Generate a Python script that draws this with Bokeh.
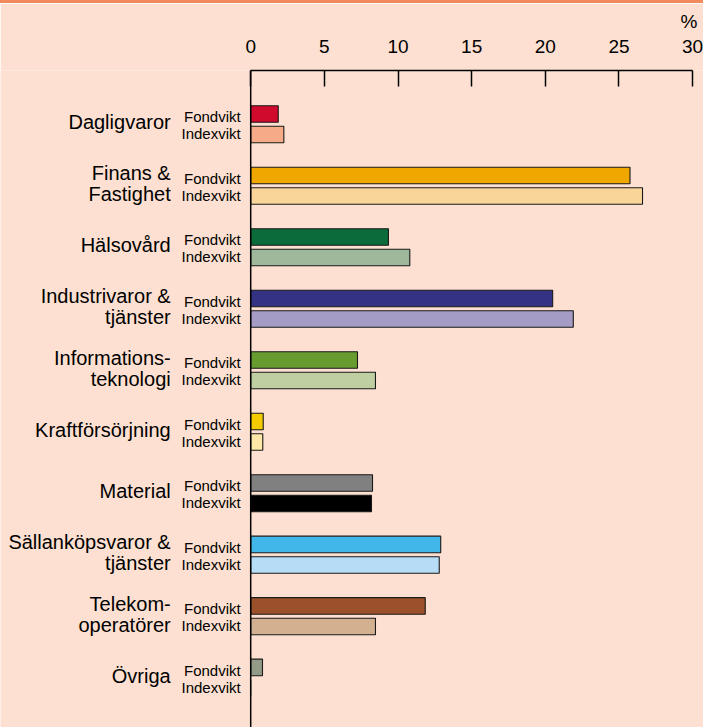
from bokeh.plotting import figure
from bokeh.models import Range1d, LinearAxis, FixedTicker, Span, Div
from bokeh.layouts import column
from bokeh.embed import file_html
from bokeh.resources import INLINE
from bokeh.core.properties import value

# ---- data ----
categories = ["Dagligvaror", "Finans &\nFastighet", "Hälsovård", "Industrivaror &\ntjänster",
              "Informations-\nteknologi", "Kraftförsörjning", "Material",
              "Sällanköpsvaror &\ntjänster", "Telekom-\noperatörer", "Övriga"]
fondvikt = [1.87, 25.75, 9.35, 20.5, 7.25, 0.85, 8.27, 12.9, 11.85, 0.8]
indexvikt = [2.25, 26.6, 10.8, 21.9, 8.47, 0.82, 8.2, 12.8, 8.47, 0.0]
fond_colors = ["#cf0a2c", "#f0a800", "#0b6b3a", "#343283", "#679b2f",
               "#f4cb00", "#808080", "#41b6e9", "#9b522b", "#939a88"]
index_colors = ["#f5ab87", "#f9d59a", "#9fb79a", "#a49cc4", "#bfcfa1",
                "#fde8a8", "#000000", "#b7dcf5", "#d2b090", "#939a88"]
series_labels = ["Fondvikt", "Indexvikt"]
ticks = [0, 5, 10, 15, 20, 25, 30]
unit_label = "%"

BG = "#fde0d1"
ORANGE = "#f08a5c"
FONT = "Liberation Sans"

# ---- layout constants ----
W = 703
BAND = 3
H = 727 - BAND
PX_PER_UNIT = 14.73
ZERO_PX = 250.2
OFF = 0.167
BAR_H = 0.27

p = figure(width=W, height=H, output_backend="svg", toolbar_location=None,
           x_range=Range1d(-ZERO_PX / PX_PER_UNIT, (W - ZERO_PX) / PX_PER_UNIT),
           y_range=Range1d(9.809, -0.874),
           x_axis_location=None, y_axis_location=None,
           min_border_top=70 - BAND, min_border_left=0, min_border_right=0, min_border_bottom=0)
p.margin = 0
p.outline_line_color = None
p.background_fill_color = BG
p.border_fill_color = BG
p.xgrid.visible = False
p.ygrid.visible = False

ax = LinearAxis(ticker=FixedTicker(ticks=ticks), bounds=(0, 30),
                major_tick_in=16, major_tick_out=0, minor_tick_in=0, minor_tick_out=0,
                axis_line_color="black", axis_line_width=1.5,
                major_tick_line_color="black", major_tick_line_width=1.5,
                major_label_text_font_size="19px", major_label_text_font=FONT,
                major_label_text_color="black", major_label_standoff=18)
p.add_layout(ax, "above")

p.title.text = unit_label
p.title.align = "right"
p.title.text_font = FONT
p.title.text_font_size = "19px"
p.title.text_font_style = "normal"
p.title.text_color = "black"
p.title.offset = 6
p.title.border_line_color = None
p.title.background_fill_color = None

p.add_layout(Span(location=0, dimension="height", line_color="black", line_width=1.5))

ys = list(range(len(categories)))
fy = [y - OFF for y in ys]
iy = [y + OFF for y in ys]

p.hbar(y=fy, left=0, right=fondvikt, height=BAR_H, fill_color=fond_colors,
       line_color="#1a1a1a", line_width=1.1)
p.hbar(y=iy, left=0, right=indexvikt, height=BAR_H, fill_color=index_colors,
       line_color="#1a1a1a", line_width=1.1)

p.text(x=[0] * len(ys), y=fy, text=[series_labels[0]] * len(ys), x_offset=-10, y_offset=3,
       text_align="right", text_baseline="middle", text_font=value(FONT),
       text_font_size="15px", text_color="black")
p.text(x=[0] * len(ys), y=iy, text=[series_labels[1]] * len(ys), x_offset=-10, y_offset=-1,
       text_align="right", text_baseline="middle", text_font=value(FONT),
       text_font_size="15px", text_color="black")

lx, ly, lt = [], [], []
for i, c in enumerate(categories):
    parts = c.split("\n")
    if len(parts) == 2:
        lx += [0, 0]
        ly += [i - OFF, i + OFF]
        lt += parts
    else:
        lx.append(0)
        ly.append(i)
        lt.append(c)
p.text(x=lx, y=ly, text=lt, x_offset=-80, y_offset=-2, text_align="right",
       text_baseline="middle", text_font=value(FONT), text_font_size="20px",
       text_color="black")

band = Div(text="", width=W, height=BAND, margin=0,
           styles={"background-color": ORANGE, "width": "703px", "height": "%dpx" % BAND})
layout = column(band, p, spacing=0, margin=0)

open("out.html", "w").write(file_html(layout, INLINE))
